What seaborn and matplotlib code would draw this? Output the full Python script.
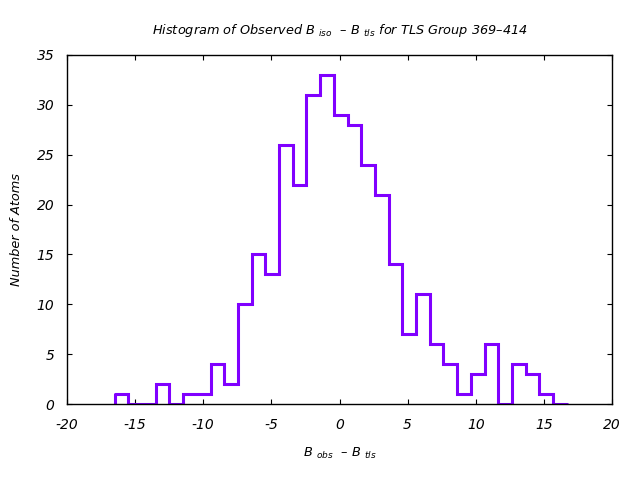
import numpy as np
import pandas as pd
import matplotlib
matplotlib.use("Agg")
import matplotlib.pyplot as plt
import seaborn as sns

# Data
counts = [1, 0, 0, 2, 0, 1, 1, 4, 2, 10, 15, 13, 26, 22, 31, 33, 29, 28,
          24, 21, 14, 7, 11, 6, 4, 1, 3, 6, 0, 4, 3, 1, 0]
bin_left = -16.5
bin_right = 16.68
xticks = [-20, -15, -10, -5, 0, 5, 10, 15, 20]
yticks = [0, 5, 10, 15, 20, 25, 30, 35]

edges = np.linspace(bin_left, bin_right, len(counts) + 1)
centers = (edges[:-1] + edges[1:]) / 2
df = pd.DataFrame({"x": centers, "n": counts})

sns.set_style("white")
plt.rcParams['font.family'] = ['DejaVu Sans']
plt.rcParams['mathtext.default'] = 'it'
plt.rcParams['mathtext.fontset'] = 'dejavusans'
plt.rcParams['text.color'] = 'black'
plt.rcParams['axes.labelcolor'] = 'black'
plt.rcParams['xtick.color'] = 'black'
plt.rcParams['ytick.color'] = 'black'

color = "#8000ff"
fig = plt.figure(figsize=(6.4, 4.8), dpi=100)
ax = fig.add_axes([67/640, 1-404/480, (612-67)/640, (404-55)/480])

sns.histplot(data=df, x="x", weights="n", bins=list(edges), element="step",
             fill=False, color=color, linewidth=2.2, ax=ax)
# left edge rise of the first bin
ax.vlines(edges[0], 0, counts[0], color=color, linewidth=2.2)
for ln in ax.lines:
    ln.set_solid_joinstyle("miter")

ax.set_xlim(-20, 20)
ax.set_ylim(0, 35)
ax.set_xticks(xticks)
ax.set_yticks(yticks)
ax.set_xticklabels([str(t) for t in xticks], fontstyle="italic", fontsize=10)
ax.set_yticklabels([str(t) for t in yticks], fontstyle="italic", fontsize=10)
ax.tick_params(direction="in", length=3.5, width=0.8, top=True, right=True,
               bottom=True, left=True, color="black")
ax.tick_params(axis="y", pad=9)
ax.tick_params(axis="x", pad=10)
for s in ax.spines.values():
    s.set_color("black")
    s.set_linewidth(1)

ax.set_xlabel(r"B $_{obs}$  – B $_{tls}$", fontstyle="italic", fontsize=9.3, labelpad=10)
ax.set_ylabel("Number of Atoms", fontstyle="italic", fontsize=9.3, labelpad=10)
ax.set_title(r"Histogram of Observed B $_{iso}$  – B $_{tls}$ for TLS Group 369–414",
             fontstyle="italic", fontsize=9.3, pad=15)

fig.savefig("out.png", dpi=100)
